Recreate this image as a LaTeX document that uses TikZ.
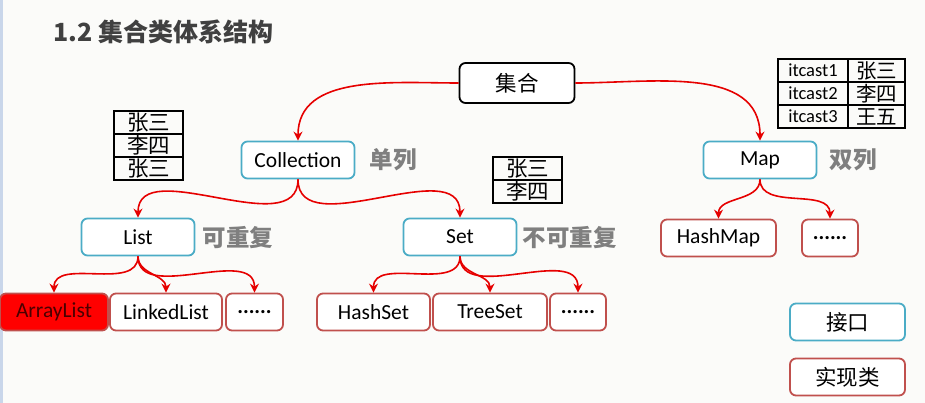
\documentclass[tikz,border=0pt]{standalone}
\usepackage{fontspec}
\setmainfont{Carlito}
\newfontfamily\cjk{Noto Sans CJK SC}
\usetikzlibrary{arrows.meta}
\definecolor{ifaceblue}{HTML}{4BACC6}
\definecolor{implred}{HTML}{C0504D}
\definecolor{linkred}{HTML}{E60000}
\definecolor{labelgray}{HTML}{7F7F7F}
\definecolor{titlegray}{HTML}{404040}
\definecolor{stripblue}{HTML}{C9D6EA}
\definecolor{paper}{HTML}{FBFBF9}
\definecolor{darkred}{HTML}{4A0000}

\begin{document}
\begin{tikzpicture}[x=1pt, y=1pt,
    box/.style={draw, line width=1.8pt, rounded corners=6pt, minimum height=37pt, inner sep=0pt, font=\fontsize{21.5}{23}\selectfont},
    iface/.style={box, draw=ifaceblue, fill=white, minimum width=113pt},
    impl/.style={box, draw=implred, fill=white},
    link/.style={draw=linkred, line width=1.6pt, -{Stealth[length=9pt,width=9pt]}},
    tag/.style={anchor=west, text=labelgray, font=\cjk\bfseries\fontsize{23.5}{25}\selectfont},
    cell/.style={draw, line width=1.3pt, minimum width=69pt, minimum height=23pt, inner sep=0pt, font=\cjk\fontsize{21.5}{22}\selectfont}]
        % Page
        \useasboundingbox (0,0) rectangle (925,-403);
        \fill[paper] (0,0) rectangle (925,-403);
        \fill[stripblue] (0,0) rectangle (3,-403);
        \node[anchor=west, text=titlegray, font=\cjk\bfseries\fontsize{25}{27}\selectfont] (title) at (50,-32) {1.2 集合类体系结构};
        % Interfaces
        \node[box, draw=black, fill=white, minimum width=115pt, minimum height=40pt] (root) at (517,-83) {\cjk 集合};
        \node[iface] (coll) at (298,-160) {Collection};
        \node[iface] (map) at (760,-160) {Map};
        \node[iface] (list) at (138,-237) {List};
        \node[iface] (set) at (460,-237) {Set};
        % Classes
        \node[impl, fill=red, draw=implred, text=darkred, minimum width=108pt] (arraylist) at (54,-312) {ArrayList};
        \node[impl, minimum width=112pt] (linkedlist) at (166,-312) {LinkedList};
        \node[impl, minimum width=57pt] (listmore) at (254.5,-312) {\textbf{......}};
        \node[impl, minimum width=113pt] (hashset) at (373.5,-312) {HashSet};
        \node[impl, minimum width=114pt] (treeset) at (490,-312) {TreeSet};
        \node[impl, minimum width=56pt] (setmore) at (578,-312) {\textbf{......}};
        \node[impl, minimum width=115pt] (hashmap) at (718.5,-238) {HashMap};
        \node[impl, minimum width=56pt] (mapmore) at (830,-238) {\textbf{......}};
        % Legend
        \node[iface, minimum width=115pt] (legiface) at (847.5,-322) {\cjk 接口};
        \node[impl, minimum width=115pt] (legimpl) at (847.5,-377) {\cjk 实现类};
        % Tags
        \node[tag] (single) at (366,-160) {单列};
        \node[tag] (double) at (826,-160) {双列};
        \node[tag] (repeat) at (199,-238) {可重复};
        \node[tag] (norepeat) at (519,-238) {不可重复};
        % Tables
        \node[cell] (la) at (148.5,-122.5) {张三};
        \node[cell] (lb) at (148.5,-145.5) {李四};
        \node[cell] (lc) at (148.5,-168.5) {张三};
        \node[cell] (ma) at (527.5,-168.5) {张三};
        \node[cell] (mb) at (527.5,-191.5) {李四};
        \node[cell, minimum width=70pt, font=\fontsize{18.5}{20}\selectfont] (ka) at (813,-70.5) {itcast1};
        \node[cell, minimum width=70pt, font=\fontsize{18.5}{20}\selectfont] (kb) at (813,-93.5) {itcast2};
        \node[cell, minimum width=70pt, font=\fontsize{18.5}{20}\selectfont] (kc) at (813,-116.5) {itcast3};
        \node[cell, minimum width=57pt, font=\cjk\fontsize{20.5}{22}\selectfont] (va) at (876.5,-70.5) {张三};
        \node[cell, minimum width=57pt, font=\cjk\fontsize{20.5}{22}\selectfont] (vb) at (876.5,-93.5) {李四};
        \node[cell, minimum width=57pt, font=\cjk\fontsize{20.5}{22}\selectfont] (vc) at (876.5,-116.5) {王五};
        % Arrows
        \draw[link] (root.west) to[out=180, in=90] (coll.north);
        \draw[link] (root.east) to[out=0, in=90] (map.north);
        \draw[link] (coll.south) to[out=-90, in=90] (list.north);
        \draw[link] (coll.south) to[out=-90, in=90] (set.north);
        \draw[link] (list.south) to[out=-90, in=90] (arraylist.north);
        \draw[link] (list.south) to[out=-90, in=90] (linkedlist.north);
        \draw[link] (list.south) to[out=-90, in=90] (listmore.north);
        \draw[link] (set.south) to[out=-90, in=90] (hashset.north);
        \draw[link] (set.south) to[out=-90, in=90] (treeset.north);
        \draw[link] (set.south) to[out=-90, in=90] (setmore.north);
        \draw[link] (map.south) to[out=-90, in=90] (hashmap.north);
        \draw[link] (map.south) to[out=-90, in=90] (mapmore.north);
    \end{tikzpicture}
\end{document}
